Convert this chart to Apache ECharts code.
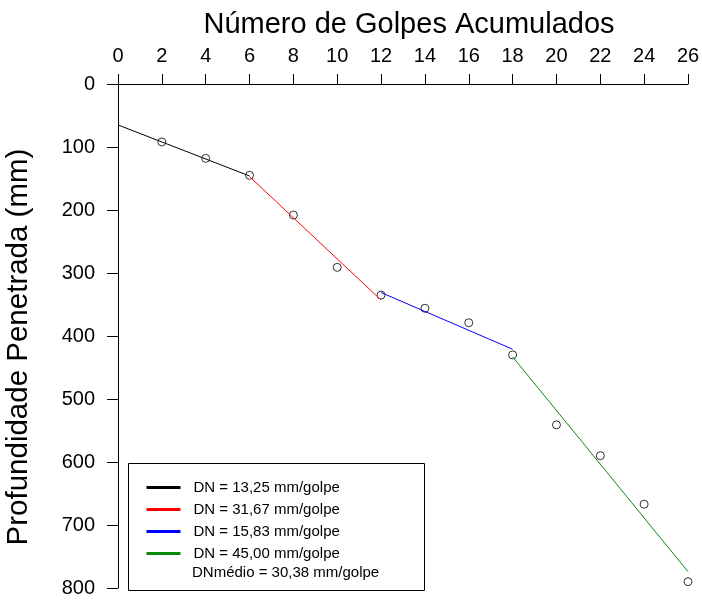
<!DOCTYPE html>
<html>
<head>
<meta charset="utf-8">
<script src="https://cdn.jsdelivr.net/npm/echarts@6/dist/echarts.min.js"></script>
<style>
  html, body { margin: 0; padding: 0; background: #fff; }
  #chart { width: 702px; height: 601px; }
</style>
</head>
<body>
<div id="chart"></div>
<script>
// golpes acumulados x profundidade (mm)
var golpes = [2, 4, 6, 8, 10, 12, 14, 16, 18, 20, 22, 24, 26];
var profundidade = [92, 118, 145, 208, 291, 335, 356, 379, 430, 541, 590, 667, 790];

// retas ajustadas por trecho [golpes, profundidade]
var retaPreta = [[0, 65], [6, 146]];
var retaVermelha = [[6, 147], [12, 343]];
var retaAzul = [[12, 331], [18, 421]];
var retaVerde = [[18, 433], [26, 774]];

var nomes = ['DN = 13,25 mm/golpe', 'DN = 31,67 mm/golpe', 'DN = 15,83 mm/golpe', 'DN = 45,00 mm/golpe'];
var cores = ['#000000', '#ff0000', '#0000ff', '#0a8a0a'];
var dnMedio = 'DNmédio = 30,38 mm/golpe';

var fonte = 'Liberation Sans';

function reta(nome, dados, cor){
  return {
    name: nome,
    type: 'line',
    data: dados,
    symbol: 'none',
    silent: true,
    lineStyle: { color: cor, width: 1 },
    itemStyle: { color: cor },
    z: 3
  };
}

var option = {
  animation: false,
  textStyle: { fontFamily: fonte },
  grid: {
    left: 118,
    top: 84,
    width: 570,
    height: 504,
    containLabel: false,
    outerBoundsMode: 'none'
  },
  legend: {
    data: nomes.map(function(n, i){
      return { name: n, itemStyle: { color: cores[i], opacity: 0 }, lineStyle: { color: cores[i], width: 3 } };
    }),
    orient: 'vertical',
    left: 145,
    top: 480,
    padding: 0,
    itemWidth: 34,
    itemHeight: 14,
    itemGap: 7,
    selectedMode: false,
    z: 10,
    textStyle: { fontFamily: fonte, fontSize: 15, color: '#000', padding: [0, 0, 0, 8] }
  },
  xAxis: {
    type: 'value',
    position: 'top',
    min: 0,
    max: 26,
    interval: 2,
    name: 'Número de Golpes Acumulados',
    nameLocation: 'middle',
    nameGap: 45,
    nameTextStyle: { fontFamily: fonte, fontSize: 29, color: '#000', padding: [0, 0, 0, 12] },
    axisLine: { show: true, lineStyle: { color: '#000', width: 1 } },
    axisTick: { show: true, length: 10, lineStyle: { color: '#000' } },
    axisLabel: { fontFamily: fonte, fontSize: 20, color: '#000', margin: 18 },
    splitLine: { show: false }
  },
  yAxis: {
    type: 'value',
    inverse: true,
    min: 0,
    max: 800,
    interval: 100,
    name: 'Profundidade Penetrada (mm)',
    nameLocation: 'middle',
    nameGap: 84,
    nameTextStyle: { fontFamily: fonte, fontSize: 29.5, color: '#000', padding: [0, 22, 0, 0] },
    axisLine: { show: true, lineStyle: { color: '#000', width: 1 } },
    axisTick: { show: true, length: 11, lineStyle: { color: '#000' } },
    axisLabel: { fontFamily: fonte, fontSize: 20, color: '#000', margin: 23 },
    splitLine: { show: false }
  },
  graphic: [
    {
      type: 'rect',
      shape: { x: 128.5, y: 463.5, width: 296, height: 127 },
      style: { fill: '#fff', stroke: '#000', lineWidth: 1 },
      z: 1
    },
    {
      type: 'text',
      x: 192,
      y: 573,
      style: { text: dnMedio, fontFamily: fonte, fontSize: 15, fill: '#000', verticalAlign: 'middle' },
      z: 10
    }
  ],
  series: [
    reta(nomes[0], retaPreta, cores[0]),
    reta(nomes[1], retaVermelha, cores[1]),
    reta(nomes[2], retaAzul, cores[2]),
    reta(nomes[3], retaVerde, cores[3]),
    {
      name: 'Pontos',
      type: 'scatter',
      data: golpes.map(function(g, i){ return [g, profundidade[i]]; }),
      symbol: 'circle',
      symbolSize: 8,
      silent: true,
      itemStyle: { color: 'rgba(255,255,255,0)', borderColor: '#000', borderWidth: 1 },
      z: 2
    }
  ]
};

var grafico = echarts.init(document.getElementById('chart'));
grafico.setOption(option);
window.addEventListener('resize', function(){
  grafico.resize();
});
</script>
</body>
</html>
